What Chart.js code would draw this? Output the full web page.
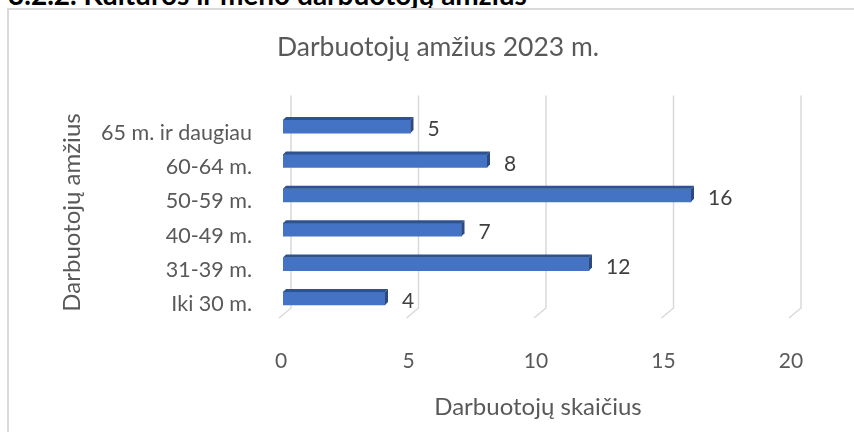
<!DOCTYPE html>
<html>
<head>
<meta charset="utf-8">
<script src="https://cdn.jsdelivr.net/npm/chart.js@4.4.1/dist/chart.umd.min.js"></script>
<style>
  html, body { margin: 0; padding: 0; background: #ffffff; overflow: hidden; width: 854px; height: 432px; }
  #heading { position: absolute; left: 8px; top: -20px; font-family: Lato, sans-serif; font-weight: bold; font-size: 28px; line-height: 28px; color: #000; white-space: nowrap; }
  #frame { position: absolute; left: 7px; top: 8px; width: 858px; height: 440px; border: 2px solid #d9d9d9; background: #fff; }
  canvas { display: block; }
</style>
</head>
<body>
<div id="heading">3.2.2. Kultūros ir meno darbuotojų amžius</div>
<div id="frame"><canvas id="c" width="858" height="440"></canvas></div>
<script>
const chartTitle = 'Darbuotojų amžius 2023 m.';
const xAxisTitle = 'Darbuotojų skaičius';
const yAxisTitle = 'Darbuotojų amžius';
const categories = ['65 m. ir daugiau', '60-64 m.', '50-59 m.', '40-49 m.', '31-39 m.', 'Iki 30 m.'];
const values = [5, 8, 16, 7, 12, 4];
const xTickValues = [0, 5, 10, 15, 20];

const FONT = 'Lato, "Open Sans", sans-serif';
const TEXT = '#595959';

const grid3d = {
  id: 'grid3d',
  beforeDatasetsDraw(chart) {
    const { ctx, chartArea, scales } = chart;
    const xs = scales.x;
    ctx.save();
    ctx.strokeStyle = '#d9d9d9';
    ctx.lineWidth = 1.5;
    xTickValues.forEach(v => {
      const px = xs.getPixelForValue(v);
      ctx.beginPath();
      ctx.moveTo(px + 8, chartArea.top - 14);
      ctx.lineTo(px + 8, chartArea.bottom - 7.6);
      ctx.lineTo(px - 4, chartArea.bottom + 2.4);
      ctx.stroke();
    });
    ctx.restore();
  }
};

const bars3d = {
  id: 'bars3d',
  afterDatasetsDraw(chart) {
    const { ctx } = chart;
    const meta = chart.getDatasetMeta(0);
    ctx.save();
    meta.data.forEach((el, i) => {
      const top = el.y - el.height / 2;
      const bottom = el.y + el.height / 2;
      const d = 3;
      ctx.fillStyle = '#2f528f';
      ctx.beginPath();
      ctx.moveTo(el.base, top);
      ctx.lineTo(el.x, top);
      ctx.lineTo(el.x + d, top - d);
      ctx.lineTo(el.base + d, top - d);
      ctx.closePath();
      ctx.fill();
      ctx.fillStyle = '#2c4a80';
      ctx.beginPath();
      ctx.moveTo(el.x, top);
      ctx.lineTo(el.x + d, top - d);
      ctx.lineTo(el.x + d, bottom - d);
      ctx.lineTo(el.x, bottom);
      ctx.closePath();
      ctx.fill();
      ctx.fillStyle = '#404040';
      ctx.font = '21px ' + FONT;
      ctx.textAlign = 'left';
      ctx.textBaseline = 'middle';
      ctx.fillText(String(values[i]), el.x + 17, el.y + 3);
    });
    ctx.restore();
  }
};

new Chart(document.getElementById('c'), {
  type: 'bar',
  data: {
    labels: categories,
    datasets: [{
      data: values,
      backgroundColor: '#4472c4',
      borderWidth: 0,
      barThickness: 13
    }]
  },
  options: {
    indexAxis: 'y',
    responsive: false,
    animation: false,
    layout: { padding: { left: 0, right: 0, top: 0, bottom: 19.4 } },
    plugins: {
      legend: { display: false },
      tooltip: { enabled: false },
      title: {
        display: true,
        text: chartTitle,
        color: TEXT,
        font: { family: FONT, size: 26.5, weight: 'normal' },
        padding: { top: 22, bottom: 45.6 }
      }
    },
    scales: {
      x: {
        min: xTickValues[0],
        max: xTickValues[xTickValues.length - 1],
        afterBuildTicks(s) { s.ticks = xTickValues.map(v => ({ value: v })); },
        afterFit(s) { s.height = 115; },
        grid: { display: false, drawTicks: false },
        border: { display: false },
        ticks: { color: TEXT, font: { family: FONT, size: 21 }, padding: 33, labelOffset: -2 },
        title: { display: true, text: xAxisTitle, color: TEXT, font: { family: FONT, size: 24 }, padding: { top: 0, bottom: 9.2 } }
      },
      y: {
        afterFit(s) { s.width = 274; },
        grid: { display: false, drawTicks: false },
        border: { display: false },
        ticks: { color: TEXT, font: { family: FONT, size: 21.5 }, padding: 31, labelOffset: 6 },
        title: { display: true, text: yAxisTitle, color: TEXT, font: { family: FONT, size: 24 }, padding: { top: 48.6, bottom: 0 } }
      },
      yRight: {
        type: 'category',
        position: 'right',
        afterFit(s) { s.width = 74; },
        grid: { display: false, drawTicks: false },
        border: { display: false },
        ticks: { display: false }
      }
    }
  },
  plugins: [grid3d, bars3d]
});
</script>
</body>
</html>
